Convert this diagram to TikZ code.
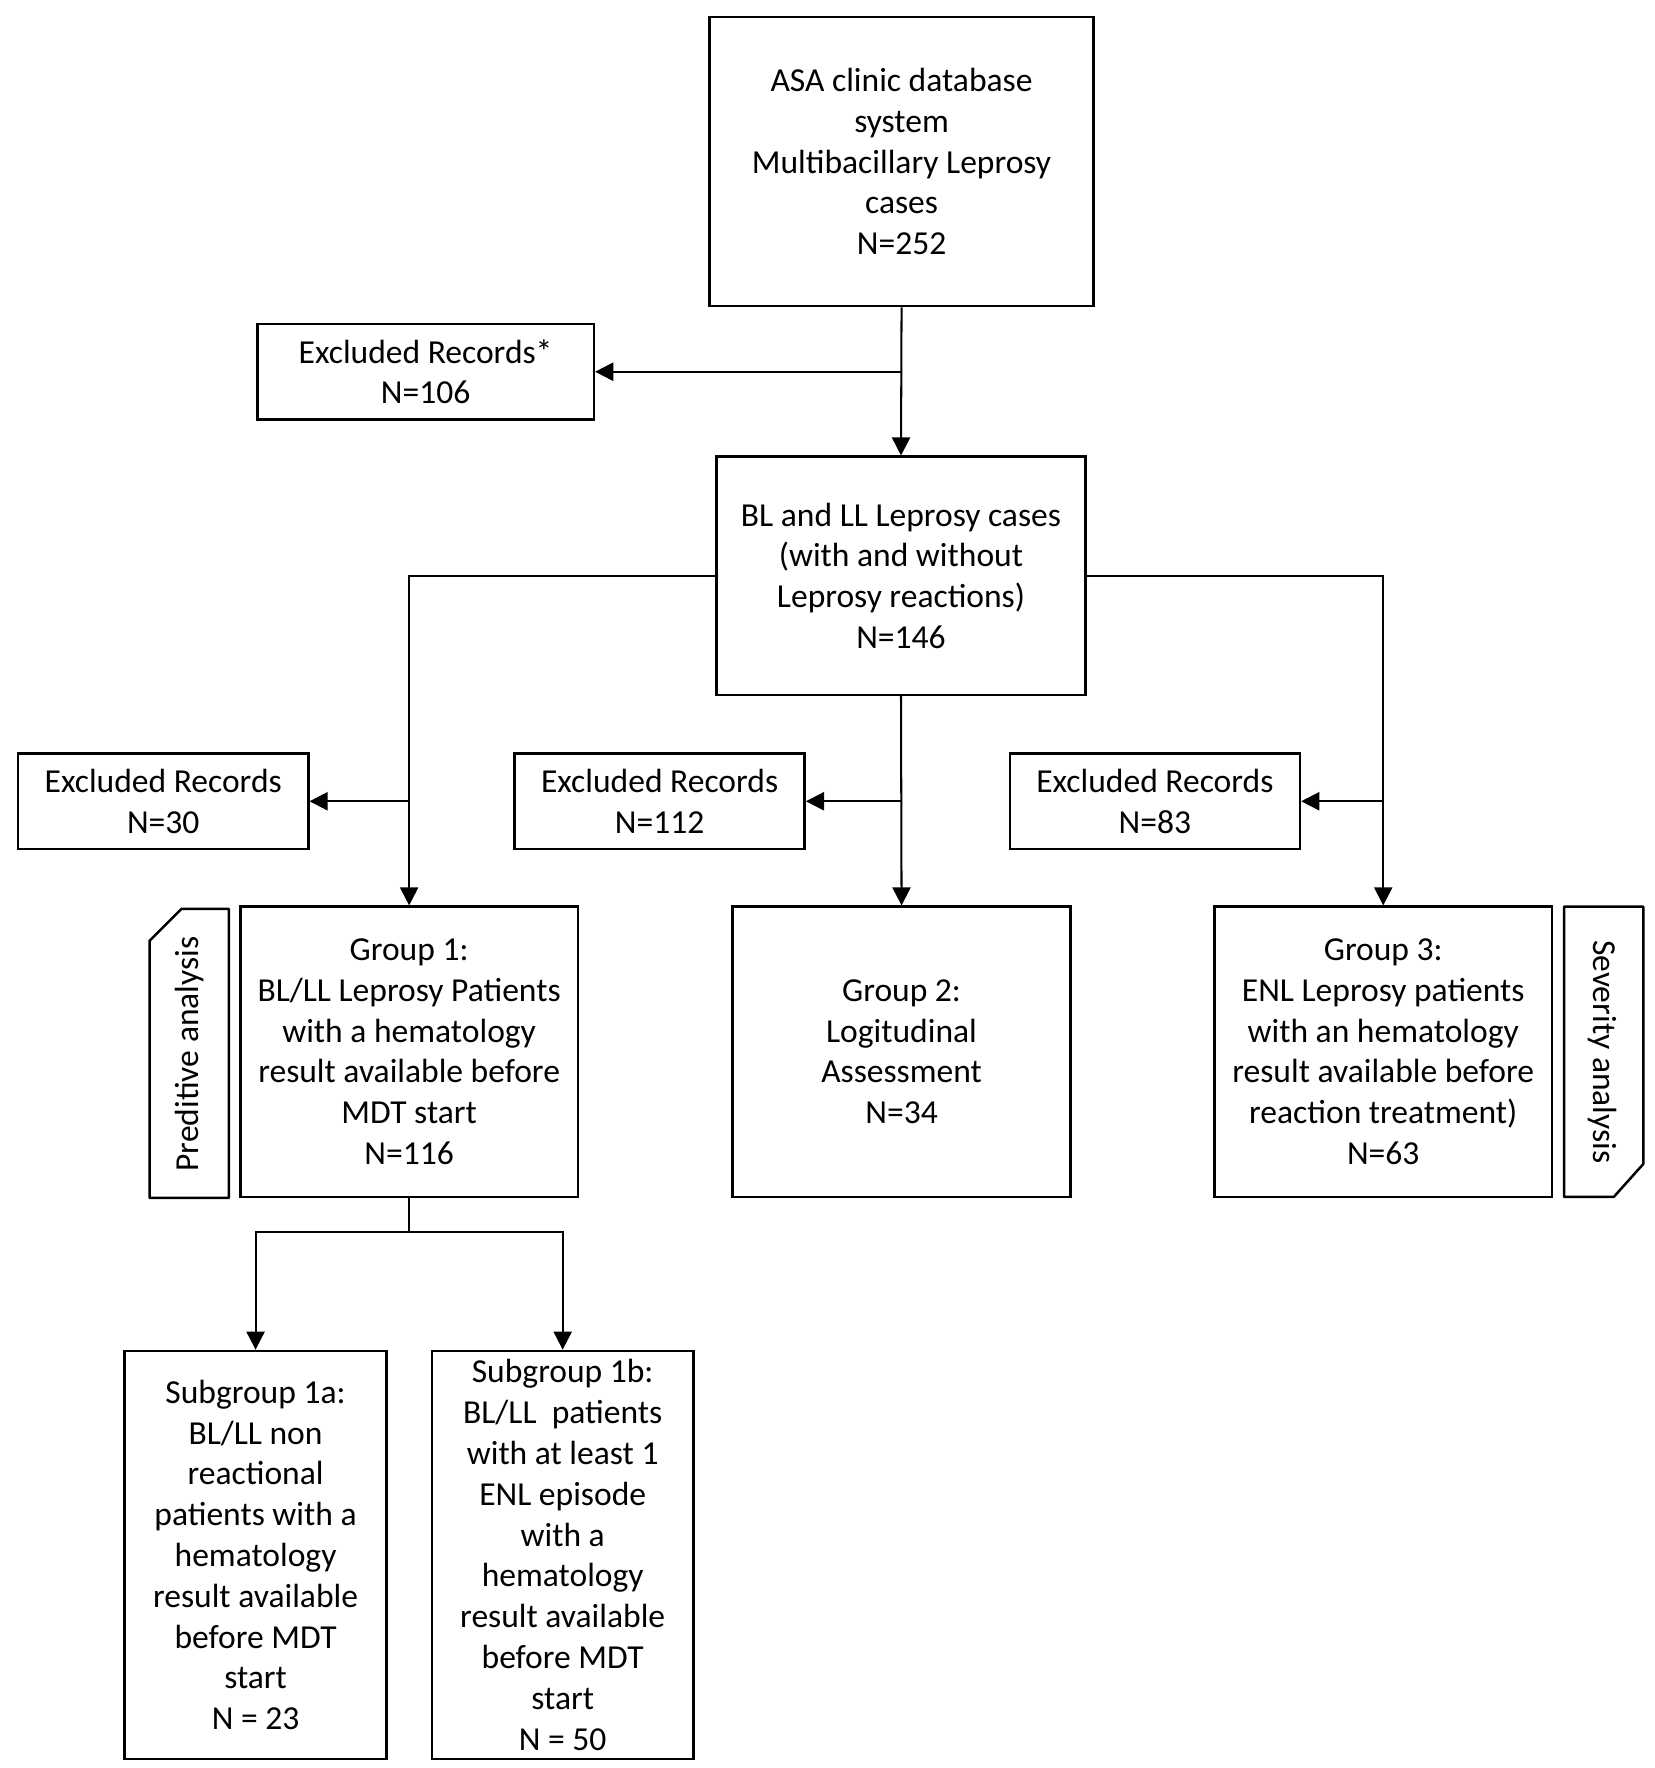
\documentclass[tikz,border=0pt]{standalone}
\usepackage{fontspec}
\setmainfont{Carlito}
\usetikzlibrary{arrows.meta}
\begin{document}
\begin{tikzpicture}[x=0.5pt,y=-0.5pt,
  every node/.style={font=\fontsize{14.8pt}{18pt}\selectfont, align=center, inner sep=0pt},
  box/.style={draw, line width=1.1pt, rectangle},
  small/.style={box, minimum width=128pt, minimum height=42pt},
  grp/.style={box, minimum width=149pt, minimum height=128pt},
  sub/.style={box, minimum width=115.5pt, minimum height=180pt},
  conn/.style={line width=0.9pt},
  arr/.style={conn, -{Triangle[length=8pt,width=8pt]}},
  tab/.style={draw, line width=1.1pt, line join=round}]
\useasboundingbox (0,0) rectangle (1460,1560);
\node[box, minimum width=169.5pt, minimum height=127.5pt] (A) at (795.5,142.5)
  {ASA clinic database\\system\\Multibacillary Leprosy\\cases\\N=252};
\node[box, minimum width=148.5pt, minimum height=42pt] (e106) at (375.5,328)
  {Excluded Records*\\N=106};
\node[box, minimum width=163pt, minimum height=105pt] (B) at (795,508)
  {BL and LL Leprosy cases\\(with and without\\Leprosy reactions)\\N=146};
\node[small] (e30) at (144,707) {Excluded Records\\N=30};
\node[small] (e112) at (582,707) {Excluded Records\\N=112};
\node[small] (e83) at (1019,707) {Excluded Records\\N=83};
\node[grp] (G1) at (361,928)
  {Group 1:\\BL/LL Leprosy Patients\\with a hematology\\result available before\\MDT start\\N=116};
\node[grp] (G2) at (795.5,928)
  {Group 2:\\Logitudinal\\Assessment\\N=34};
\node[grp] (G3) at (1220.5,928)
  {Group 3:\\ENL Leprosy patients\\with an hematology\\result available before\\reaction treatment)\\N=63};
\node[sub] (S1a) at (225.5,1372)
  {Subgroup 1a:\\BL/LL non\\reactional\\patients with a\\hematology\\result available\\before MDT\\start\\N = 23};
\node[sub] (S1b) at (496.5,1372)
  {Subgroup 1b:\\BL/LL\ \ patients\\with at least 1\\ENL episode\\with a\\hematology\\result available\\before MDT\\start\\N = 50};
% side tabs
\draw[tab] (132,830) -- (160,802) -- (202,802) -- (202,1057) -- (132,1057) -- cycle;
\node[rotate=90] (pa) at (167,930) {Preditive analysis};
\draw[tab] (1380,800) -- (1450,800) -- (1450,1027) -- (1424,1056) -- (1380,1056) -- cycle;
\node[rotate=-90] (sa) at (1414,928) {Severity analysis};
% connectors
\draw[arr] (A.south) -- (B.north);
\draw[arr] (A.south |- e106.east) -- (e106.east);
\draw[arr] (B.west) -| (G1.north);
\draw[arr] (G1.north |- e30.east) -- (e30.east);
\draw[arr] (B.east) -| (G3.north);
\draw[arr] (G3.north |- e83.east) -- (e83.east);
\draw[arr] (B.south) -- (G2.north);
\draw[arr] (G2.north |- e112.east) -- (e112.east);
\coordinate (split) at (361,1087);
\draw[conn] (G1.south) -- (split);
\draw[arr] (split) -| (S1a.north);
\draw[arr] (split) -| (S1b.north);
\end{tikzpicture}
\end{document}
